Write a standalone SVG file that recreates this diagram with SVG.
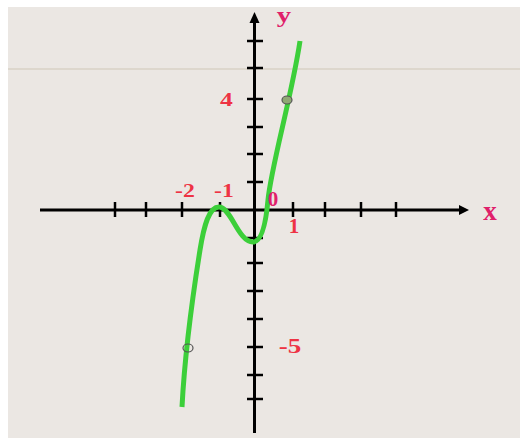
<svg xmlns="http://www.w3.org/2000/svg" width="520" height="443" viewBox="0 0 520 443">
<defs>
<style>
.ax{stroke:#000;stroke-width:3;fill:none}
.tk{stroke:#000;stroke-width:2.5}
.lbl{font-family:"Liberation Serif","Times New Roman",serif;font-weight:bold;fill:#ee3344;text-anchor:middle}
.var{font-family:"Liberation Serif","Times New Roman",serif;font-weight:bold;fill:#e0206a;text-anchor:middle}
.curve{stroke:#3ccf3a;stroke-width:5;fill:none;stroke-linecap:butt}
</style>
</defs>
<rect x="0" y="0" width="520" height="443" fill="#ffffff"/>
<rect x="8" y="7" width="512" height="431" fill="#ebe7e3"/>
<line x1="8" y1="69" x2="520" y2="69" stroke="#d8d2c6" stroke-width="1.5"/>
<g id="axes">
<line class="ax" x1="40" y1="210" x2="462" y2="210"/>
<polygon points="469,210 459,205 459,215" fill="#000"/>
<line class="ax" x1="254.5" y1="433" x2="254.5" y2="20"/>
<polygon points="254.5,12 249.5,23 259.5,23" fill="#000"/>
</g>
<g id="ticks">
<line class="tk" x1="115" y1="202" x2="115" y2="217"/>
<line class="tk" x1="146" y1="202" x2="146" y2="217"/>
<line class="tk" x1="182" y1="202" x2="182" y2="217"/>
<line class="tk" x1="220" y1="202" x2="220" y2="217"/>
<line class="tk" x1="293" y1="202" x2="293" y2="217"/>
<line class="tk" x1="325" y1="202" x2="325" y2="217"/>
<line class="tk" x1="361" y1="202" x2="361" y2="217"/>
<line class="tk" x1="396" y1="202" x2="396" y2="217"/>
<line class="tk" x1="247" y1="41" x2="263" y2="41"/>
<line class="tk" x1="247" y1="68" x2="263" y2="68"/>
<line class="tk" x1="247" y1="99" x2="263" y2="99"/>
<line class="tk" x1="247" y1="127" x2="263" y2="127"/>
<line class="tk" x1="247" y1="154" x2="263" y2="154"/>
<line class="tk" x1="247" y1="182" x2="263" y2="182"/>
<line class="tk" x1="247" y1="238" x2="263" y2="238"/>
<line class="tk" x1="247" y1="263" x2="263" y2="263"/>
<line class="tk" x1="247" y1="291" x2="263" y2="291"/>
<line class="tk" x1="247" y1="319" x2="263" y2="319"/>
<line class="tk" x1="247" y1="347" x2="263" y2="347"/>
<line class="tk" x1="247" y1="375" x2="263" y2="375"/>
<line class="tk" x1="247" y1="399" x2="263" y2="399"/>
</g>
<g id="graph">
<path class="curve" d="M182,407 C185,350 192,300 200,250 C204,225 209,207 219,207 C231,207 238,242 253,242 C262,242 266,222 268,200 C271,167 292,95 300,41"/>
<ellipse cx="188" cy="348" rx="5" ry="4" fill="none" stroke="#555" stroke-width="1.2"/>
<ellipse cx="287" cy="100" rx="5" ry="4" fill="#8fa874" stroke="#555" stroke-width="1.2"/>
</g>
<g id="labels">
<text class="lbl" font-size="19" transform="translate(185,197) scale(1.25,1)">-2</text>
<text class="lbl" font-size="19" transform="translate(224,197) scale(1.25,1)">-1</text>
<text class="var" font-size="21" x="273" y="206">0</text>
<text class="lbl" font-size="21" x="294" y="233">1</text>
<text class="var" font-size="27" x="490" y="220">x</text>
<text class="var" font-size="22" transform="translate(284,22) scale(1.3,1)">y</text>
<text class="lbl" font-size="19" transform="translate(226.5,106) scale(1.35,1)">4</text>
<text class="lbl" font-size="20" transform="translate(290,353) scale(1.35,1)">-5</text>
</g>
</svg>
